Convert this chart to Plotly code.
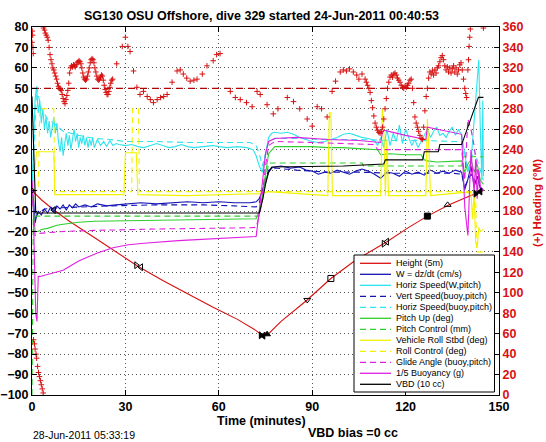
import plotly.graph_objects as go

# ---------------- data ----------------
x_ticks = [0, 30, 60, 90, 120, 150]

# Height (5 m units)
t_height = [0, 1, 3, 7, 12, 20, 27, 34, 42, 50, 58, 66, 72, 74, 75, 76, 80, 88, 96, 104, 114, 121, 127, 134, 140, 143, 145]
height = [0, -1.5, -4.5, -9.5, -15, -23, -30, -37, -44, -50.5, -57, -63, -68.5, -71, -70.5, -70, -64, -54, -43, -34, -25, -18, -12.5, -7, -3, -1, 0]

# markers on the height trace
t_marks = [0, 7, 33.5, 35, 73.5, 74.3, 75.5, 88.4, 96, 113, 114, 127, 133.5, 142.5, 144]
height_marks = [0, -9.5, -36.5, -37.5, -70.8, -71, -70.3, -53.5, -43, -26, -25, -12.5, -7, -1.5, -0.5]
mark_symbols = ['triangle-right-open', 'triangle-left-open', 'triangle-right-open', 'triangle-left-open',
                'triangle-right', 'triangle-left', 'triangle-up', 'triangle-down-open', 'square-open',
                'triangle-right-open', 'triangle-left-open', 'square', 'triangle-up-open', 'triangle-right', 'triangle-left']

# W = dz/dt (cm/s)
t_w = [0, 0.5, 1, 1.5, 2, 3, 4, 5, 6, 7, 8, 9, 10, 11, 12, 13, 14, 15, 17, 19, 21, 24, 27, 30, 35, 40, 45, 50, 55, 60,
       65, 70, 72, 73, 74, 75, 76, 77, 78, 80, 83, 86, 88, 90, 92, 94, 96, 98, 100, 102, 104, 106, 108, 110, 112, 114,
       116, 118, 120, 122, 124, 126, 128, 130, 132, 134, 136, 138, 139, 140, 141, 142, 143, 144, 145]
w = [0, -5, -16, -12, -10, -12, -9, -11, -8, -10.5, -7.5, -9, -7, -9.5, -7, -8.5, -6.5, -8, -7, -8, -6.5, -7.5, -7, -6.5,
     -6, -6.5, -6, -5.5, -6, -5.5, -6, -6, -5.5, -4, 0, 5, 9, 11, 11.5, 12, 11, 11.5, 10, 9.5, 8, 9, 8.5, 10, 9, 8, 9.5,
     10.5, 9.5, 8, 6, 9, 8.5, 7, 9.5, 8, 9, 7.5, 10, 8.5, 9.5, 8.5, 10, 9, 0.5, 5.5, 12, 2, 7, 1, 0]

# Vert Speed (buoy, pitch)
t_vs = [0, 1, 2, 4, 8, 15, 25, 40, 55, 65, 70, 72, 73, 74, 75, 76, 78, 85, 95, 105, 115, 125, 135, 138, 139, 141, 143, 145]
vert_speed = [0, -14, -11, -9, -8.5, -8, -7.5, -7, -7, -7.5, -8, -8, -6, 0, 6, 10, 11, 10, 9, 9, 8.5, 8.5, 8.5, 8, 2, 8, 3, 0]

# Horiz Speed (W, pitch)
t_hs = [0, 0.5, 1, 1.5, 2, 2.5, 3, 3.5, 4, 4.5, 5, 5.5, 6, 6.5, 7, 7.5, 8, 8.5, 9, 9.5, 10, 10.5, 11, 11.5, 12, 12.5,
        13, 13.5, 14, 14.5, 15, 15.5, 16, 16.5, 17, 17.5, 18, 18.5, 19, 19.5, 20, 21, 22, 23, 24, 25, 26, 27, 28, 30,
        32, 34, 36, 38, 40, 42, 44, 46, 48, 50, 52, 55, 58, 60, 63, 66, 69, 71, 72, 73, 74, 75, 76, 77, 78, 80, 82, 84,
        86, 88, 90, 92, 94, 96, 98, 100, 102, 104, 106, 108, 110, 111, 112, 113, 114, 115, 116, 117, 118, 119, 120, 121,
        122, 123, 124, 125, 126, 127, 128, 129, 130, 131, 132, 133, 134, 135, 136, 137, 138, 139, 140, 141, 142, 143,
        143.5, 144, 144.5, 144.8, 145]
horiz_speed = [0, 20, 45, 51, 38, 44, 33, 40, 30, 36, 28, 34, 26, 31, 36, 28, 33, 24, 19, 26, 17, 23, 28, 22, 27, 20,
               25, 30, 24, 28, 21, 26, 23, 27, 22, 26, 21, 25, 22, 26, 21, 25, 22, 24, 21.5, 24.5, 22, 23, 22.5, 22,
               22.5, 21.5, 21, 22, 23, 22, 21, 21.5, 22.5, 21.5, 21, 21.5, 22, 21.5, 21, 21.5, 21, 20, 17, 12, 9, 18,
               26, 28, 28.5, 28, 28.5, 27.5, 26, 25, 24, 23.5, 24, 25, 26, 27.5, 28, 27, 26, 25.5, 24.5, 22, 26, 21,
               30, 22, 28, 24, 32, 23, 30, 26, 22, 25, 21, 24, 27, 30, 26, 29, 31, 27, 28, 26, 29, 31, 27, 30, 27, 18,
               9, 14, 35, 55, 64, 30, 5, 44, 7]

# Horiz Speed (buoy, pitch)
t_hb = [0, 1, 1.5, 3, 5, 7, 10, 15, 20, 25, 30, 40, 50, 60, 70, 72, 73, 74, 75, 76, 78, 85, 95, 105, 115, 125, 135,
        138, 139, 140, 142, 145]
horiz_speed_buoy = [0, 30, 50, 40, 35, 33, 29, 27, 25.5, 25, 24, 24, 23.5, 23.5, 23.5, 22, 18, 12, 18, 24, 25.5, 25.5,
                    25, 25, 24.5, 24.5, 24, 24, 15, 10, 20, 5]

# Pitch Up (deg)
t_pitch = [0, 0.5, 1, 2, 3, 5, 8, 10, 12, 15, 20, 30, 40, 50, 60, 70, 72, 73, 74, 75, 76, 78, 85, 90, 95, 100, 105,
           110, 111, 112, 115, 120, 125, 126, 127, 130, 135, 138, 139, 140, 141, 142, 143, 144, 145]
pitch = [0, -10, -20, -20, -19, -18.5, -17, -16.5, -16, -15.5, -15, -14.7, -14.5, -14.2, -14, -13.8, -13.8, -10, -3, 8,
         18, 21.5, 21.5, 21.5, 21, 21, 20.5, 20, 20, 17.5, 18, 17.5, 17.5, 15, 14.5, 14, 14.5, 14.5, 9, 13, 15, 9, 13,
         5, 3]

# Pitch Control (mm)
t_pc = [0, 0.4, 1, 73, 74, 75, 76, 106, 106.5, 138, 138.5, 145]
pitch_control = [-100, -12.5, -12.5, -12.5, -5, 5, 13.5, 13.5, 12, 12, 16.5, 16.5]

# Vehicle Roll Stbd (deg)
t_roll = [0, 0.5, 1.5, 7, 7.3, 29.5, 30, 33.5, 34, 50, 74, 76, 95, 95.5, 96, 96.5, 112, 112.5, 113, 113.5, 114, 114.5,
          126.5, 127, 127.5, 128, 138, 140, 141, 141.5, 142, 142.5, 143, 143.5, 144, 145]
roll = [0, 5, 19, 19, -2, -2, 18.5, 18.5, -2, -2.5, -1.5, -0.5, -2.5, 38, 38, -2.5, -2.5, 40, 30, -2.5, 25, -2.5, -2.5,
        35, 20, -2.5, -1, -1, -1, -14, -1, -25, -28, -18, -20, -19]

# Roll Control (deg)
t_rc = [0, 2, 2.5, 7, 7.3, 32, 32.3, 34.2, 34.5, 142.5, 142.8, 145]
roll_control = [0, 0, 40, 40, -0.5, -0.5, 40, 40, -0.5, -0.5, -30, -30]

# Glide Angle (buoy, pitch)
t_glide = [0, 0.5, 1, 2, 5, 10, 20, 30, 40, 50, 60, 70, 72, 73, 74, 75, 76, 78, 90, 100, 110, 111, 120, 130, 138,
           139, 140, 141, 142, 143, 144, 145]
glide = [0, -10, -22, -21, -20.5, -20, -19.5, -19, -18.8, -18.6, -18.5, -18.2, -18, -12, -2, 12, 22, 24, 23.5, 23,
         22.5, 20, 20, 20, 20, 5, 35, 30, 22, 10, 2, 0]

# 1/5 Buoyancy (g)
t_buoy = [0, 0.3, 0.8, 1.2, 1.6, 2, 2.6, 5, 10, 15, 21, 26, 31, 36, 42, 47, 53, 58, 64, 68, 72, 73, 74, 75, 76, 78,
          85, 95, 105, 112, 112.5, 113, 120, 126, 126.5, 127, 135, 138, 139, 140, 141, 142, 142.5, 143, 143.5, 144, 145]
buoyancy = [5, 0, -35, -60, -64, -42, -42, -41, -39, -34.5, -30.5, -28, -26.5, -25.8, -25, -24.5, -24, -23.6, -23.2,
            -22.8, -22.5, -10, 5, 18, 24, 25.5, 26, 25, 24.5, 23.5, 28, 29.5, 27, 25, 25, 31, 28.5, 27.5, -8, -22, 20,
            -1, 15, -4, 10, 2, 0]

# VBD (10 cc)
t_vbd = [0, 1.2, 73, 74, 75, 76, 77, 100, 113, 113.5, 125.5, 126, 130.5, 131, 138, 143.4, 145]
vbd = [46, -11, -11, -5, 3, 9, 11.5, 12, 13, 15, 15, 19, 19, 22.5, 22.5, 45.6, 45.6]

# Heading (deg M), right axis
t_heading = [0.0, 0.1, 0.2, 0.3, 0.4, 0.5, 0.8, 1.0, 1.3, 1.5, 1.8, 2.1, 2.4, 2.7, 3.0, 3.3, 3.6,
             3.7, 4.0, 4.3, 4.6, 4.9, 5.2, 5.5, 5.8, 6.1, 6.4, 6.7, 7.0, 7.3, 7.6, 7.9, 8.2, 8.5, 8.8, 9.1, 9.4,
             9.7, 10.0, 10.3, 10.6, 10.9, 11.2, 11.5, 11.8, 12.1, 12.4, 12.7, 13.0, 13.3, 13.6, 13.9, 14.2, 14.5,
             14.8, 15.1, 15.4, 15.7, 16.0, 16.3, 16.6, 16.9, 17.2, 17.5, 17.8, 18.1, 18.4, 18.7, 19.0, 19.3, 19.6,
             19.9, 20.2, 20.5, 20.8, 21.1, 21.4, 21.7, 22.0, 22.3, 22.6, 22.9, 23.2, 23.5, 23.8, 24.1, 24.4, 24.7,
             25.0, 25.3, 25.6, 25.9,
             27.2, 29, 30, 30.8, 31.5, 32.6, 33.7, 34.7, 35.8, 37, 38, 39, 40.2, 41.3, 42.3, 43.4, 45, 46.6, 47.6,
             48.6, 49.7, 50.8, 52, 53, 54.7, 56.2, 58.2, 59.3, 60.4, 63.7, 65.3, 66.9, 68.9, 70.7, 72.3, 73.3, 75.5,
             77.5, 79, 82, 84, 86, 88.4, 90, 91.6, 93, 94.8, 96.4, 97.5, 99, 100, 101, 102, 103.2, 104.3, 105, 106,
             107.0, 107.4, 107.8, 108.2, 108.6, 109.0, 109.4, 109.8, 110.2, 110.6, 111.0, 111.4, 111.8, 112.2, 112.6,
             113.0, 113.4, 113.8, 114.2, 114.6, 115.0, 115.4, 115.8, 116.2, 116.6, 117.0, 117.4, 117.8, 118.2,
             118.6, 119.0, 119.4, 119.8, 120.2, 120.6, 121.0, 121.4, 121.8, 122.2, 122.6, 123.0, 123.4, 123.8,
             124.2, 124.6, 125.0, 125.4, 125.8, 126.2, 126.6, 127.0, 127.4, 127.8, 128.2, 128.6, 129.0, 129.4,
             129.8, 130.2, 130.6, 131.0, 131.4, 131.8, 132.2, 132.6, 133.0, 133.4, 133.8, 134.2, 134.6, 135.0,
             135.4, 135.8, 136.2, 136.6, 137.0, 137.4, 137.8, 138.2, 138.6, 139.0, 139.3, 139.6, 140.0, 140.2,
             140.4, 140.6, 140.8, 145]
heading = [345, 356, 352, 340, 334, 54, 50, 45, 40, 36, 28, 22, 18, 14, 10, 6, 2,
           359, 357, 354, 352, 350, 347, 340, 333, 328, 324, 320, 318, 315, 312, 309, 305, 302, 300, 299, 298,
           294, 290, 287, 285, 289, 293, 298, 305, 315, 320, 322, 321, 323, 322, 321, 323, 325,
           326, 327, 326, 324, 320, 315, 311, 309, 308, 309, 312, 316, 320, 325, 328, 329, 328,
           325, 320, 316, 312, 309, 308, 309, 311, 313, 312, 308, 303, 299, 296, 294, 294, 297,
           301, 305, 308, 309,
           324, 341, 350, 341, 336, 317, 301, 294, 297, 292, 289, 286, 289, 291, 292, 294, 306, 317, 318,
           314, 310, 307, 308, 309, 314, 322, 327, 333, 334, 297, 291, 289, 286, 282, 297, 294, 284,
           275, 280, 291, 287, 280, 270, 263, 282, 280, 272, 297, 307, 316, 318, 317, 319, 316, 313, 309, 314,
           309, 306, 303, 300, 296, 288, 281, 273, 266, 262, 259, 257, 256, 258, 262,
           270, 280, 290, 300, 306, 311, 313, 311, 314, 315, 313, 310, 308, 306,
           303, 301, 300, 302, 301, 303, 305, 308, 309, 300, 286, 272, 266, 262,
           258, 254, 251, 250, 262, 278, 292, 300, 310, 316, 314, 317, 313, 318,
           315, 320, 322, 326, 330, 332, 328, 322, 318, 321, 316, 320, 315, 319,
           322, 316, 320, 314, 318, 323, 325, 318, 309, 300, 295, 291, 318, 328,
           341, 350, 358, 359]

# Target heading
t_target = [0, 139]
target_heading = [300, 300]

# ---------------- styling ----------------
RED = '#d81010'
NAVY = '#1414b4'
CYAN = '#2ee4ee'
GREEN = '#2fcf2f'
YELLOW = '#f2f200'
MAGENTA = '#e020e0'
BLACK = '#000000'
DASH = '6px,4px'
FONT = 'Liberation Sans, Arial, Helvetica, sans-serif'

fig = go.Figure()


def add_line(t, v, color, dash=None, width=1.1):
    fig.add_trace(go.Scatter(x=t, y=v, mode='lines', line=dict(color=color, width=width, dash=dash),
                             showlegend=False, hoverinfo='skip'))


series = [
    (t_height, height, RED, None, 'Height (5m)'),
    (t_w, w, NAVY, None, 'W = dz/dt (cm/s)'),
    (t_hs, horiz_speed, CYAN, None, 'Horiz Speed(W,pitch)'),
    (t_vs, vert_speed, NAVY, DASH, 'Vert Speed(buoy,pitch)'),
    (t_hb, horiz_speed_buoy, CYAN, DASH, 'Horiz Speed(buoy,pitch)'),
    (t_pitch, pitch, GREEN, None, 'Pitch Up (deg)'),
    (t_pc, pitch_control, GREEN, DASH, 'Pitch Control (mm)'),
    (t_roll, roll, YELLOW, None, 'Vehicle Roll Stbd (deg)'),
    (t_rc, roll_control, YELLOW, DASH, 'Roll Control (deg)'),
    (t_glide, glide, MAGENTA, DASH, 'Glide Angle (buoy,pitch)'),
    (t_buoy, buoyancy, MAGENTA, None, '1/5 Buoyancy (g)'),
    (t_vbd, vbd, BLACK, None, 'VBD (10 cc)'),
]
for t, v, c, d, _ in series:
    add_line(t, v, c, d)

fig.add_trace(go.Scatter(x=t_marks, y=height_marks, mode='markers',
                         marker=dict(symbol=mark_symbols, size=6, color='black',
                                     line=dict(color='black', width=1)),
                         showlegend=False, hoverinfo='skip'))

fig.add_trace(go.Scatter(x=t_target, y=target_heading, mode='lines', yaxis='y2',
                         line=dict(color='#b00000', width=1.1, dash='7px,5px'),
                         showlegend=False, hoverinfo='skip'))
fig.add_trace(go.Scatter(x=t_heading, y=heading, mode='markers', yaxis='y2',
                         marker=dict(symbol='cross-thin', size=4, color=RED,
                                     line=dict(color=RED, width=1)),
                         showlegend=False, hoverinfo='skip'))

# ---------------- layout ----------------
L, R, T, B = 32, 47, 27, 47
W_, H_ = 546, 442
PW, PH = W_ - L - R, H_ - T - B


def px(xp):
    return (xp - L) / PW


def py(yp):
    return (H_ - B - yp) / PH


grid = dict(showgrid=True, gridcolor='#555555', griddash='1px,3px', gridwidth=1)
fig.update_layout(
    width=W_, height=H_, margin=dict(l=L, r=R, t=T, b=B, autoexpand=False),
    paper_bgcolor='white', plot_bgcolor='white', showlegend=False,
    font=dict(family=FONT, size=12, color='black'),
    xaxis=dict(range=[0, 150], tickvals=x_ticks, ticks='inside', ticklen=5, tickcolor='black',
               showline=True, linecolor='black', linewidth=1, mirror='ticks', zeroline=False, automargin=False,
               tickfont=dict(size=12.5, weight='bold', family=FONT), **grid),
    yaxis=dict(range=[-100, 80], tick0=0, dtick=10, ticks='inside', ticklen=5, tickcolor='black',
               showline=True, linecolor='black', linewidth=1, zeroline=False, automargin=False,
               tickfont=dict(size=12.5, weight='bold', family=FONT), **grid),
    yaxis2=dict(range=[0, 360], tick0=0, dtick=20, overlaying='y', side='right', ticks='inside', ticklen=5,
                tickcolor='black', showline=True, linecolor='black', linewidth=1, zeroline=False,
                automargin=False, showgrid=False,
                tickfont=dict(size=12.5, weight='bold', color=RED, family=FONT)),
)

annotations = [
    dict(text='SG130 OSU Offshore, dive 329 started 24-Jun-2011 00:40:53', x=px(261.5), y=py(15.5),
         font=dict(size=12.5, weight='bold')),
    dict(text='Time (minutes)', x=px(261), y=py(421.5), font=dict(size=12.5, weight='bold')),
    dict(text='28-Jun-2011 05:33:19', x=px(31), y=py(434.5), xanchor='left', font=dict(size=10.5)),
    dict(text='VBD bias =0 cc', x=px(352.5), y=py(433), font=dict(size=12.5, weight='bold')),
    dict(text='(+) Heading (°M)', x=px(537), y=py(203), textangle=-90,
         font=dict(size=11.5, weight='bold', color=RED)),
]
shapes = [dict(type='rect', xref='paper', yref='paper', x0=px(354), x1=px(494.5), y0=py(392), y1=py(255),
               fillcolor='white', line=dict(color='black', width=1), layer='above')]
for i, (_, _, c, d, name) in enumerate(series):
    yy = 263.3 + 11.0 * i
    shapes.append(dict(type='line', xref='paper', yref='paper', x0=px(360), x1=px(391), y0=py(yy), y1=py(yy),
                       line=dict(color=c, width=1.3, dash=d), layer='above'))
    annotations.append(dict(text=name, x=px(394), y=py(yy), xanchor='left', font=dict(size=9)))

for a in annotations:
    a.setdefault('xref', 'paper')
    a.setdefault('yref', 'paper')
    a.setdefault('showarrow', False)
    a.setdefault('yanchor', 'middle')
    a.setdefault('xanchor', 'center')
fig.update_layout(annotations=annotations, shapes=shapes)

fig.write_html('out.html', config={'displayModeBar': False},
               post_script="document.body.style.margin='0';document.body.style.overflow='hidden';")
